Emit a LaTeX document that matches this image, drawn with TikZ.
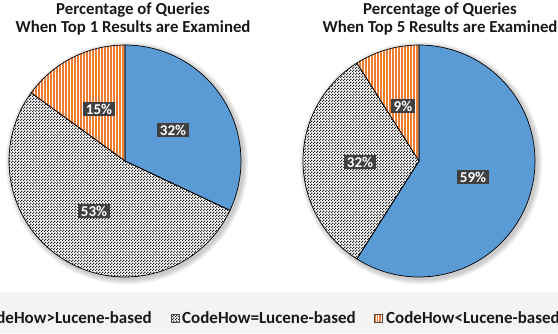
\documentclass[tikz,border=0pt]{standalone}
\usepackage{fontspec}
\setmainfont{Carlito}
\usetikzlibrary{patterns,patterns.meta}
\definecolor{pblue}{HTML}{5B9BD5}
\definecolor{porange}{HTML}{ED7D31}
\definecolor{lblbox}{HTML}{404040}
\definecolor{legbg}{HTML}{F4F4F4}
\pgfdeclarepatternformonly{checker}{\pgfqpoint{0pt}{0pt}}{\pgfqpoint{2.6pt}{2.6pt}}{\pgfqpoint{2.6pt}{2.6pt}}{%
  \pgfpathrectangle{\pgfqpoint{0pt}{0pt}}{\pgfqpoint{1.3pt}{1.3pt}}%
  \pgfpathrectangle{\pgfqpoint{1.3pt}{1.3pt}}{\pgfqpoint{1.3pt}{1.3pt}}%
  \pgfusepath{fill}}
\tikzset{
  slicebluestyle/.style={fill=pblue, draw=black, line width=0.7pt, line join=round},
  slicegraystyle/.style={pattern=checker, pattern color=black!85, draw=black, line width=0.7pt, line join=round},
  sliceorangestyle/.style={pattern={Lines[angle=90,distance=3pt,line width=1.3pt]}, pattern color=porange, draw=black, line width=0.7pt, line join=round},
  pctlabel/.style={fill=lblbox, text=white, font=\fontsize{15}{17}\selectfont\bfseries, inner xsep=3pt, inner ysep=2pt},
  titletext/.style={font=\fontsize{16.8}{18}\selectfont\bfseries, align=center, text=black!90},
  legtext/.style={font=\fontsize{17}{19}\selectfont\bfseries, anchor=west, inner sep=0pt, text=black!90},
  legbox/.style={draw=black!70, line width=0.4pt, minimum size=8pt, inner sep=0pt}
}
\begin{document}
\begin{tikzpicture}[x=1pt,y=1pt]
\useasboundingbox (0,0) rectangle (558,333);
\clip (0,0) rectangle (558,333);
\fill[white] (0,0) rectangle (558,333);
\fill[legbg] (0,0) rectangle (558,41);
% centres
\coordinate (lc) at (125,172);
\coordinate (rc) at (419,172);
% soft shadows
\foreach \k in {1,...,6}{
  \fill[black, opacity=0.035] ([shift={(2,-2)}]lc) circle[radius=116+\k*0.9];
  \fill[black, opacity=0.035] ([shift={(2,-2)}]rc) circle[radius=116+\k*0.9];
}
\fill[white] (lc) circle[radius=116];
\fill[white] (rc) circle[radius=116];
% left pie
\path[slicebluestyle] (lc) -- ++(90:116) arc[start angle=90, end angle=-25.2, radius=116] -- cycle;
\path[slicegraystyle] (lc) -- ++(-25.2:116) arc[start angle=-25.2, end angle=-216, radius=116] -- cycle;
\path[sliceorangestyle] (lc) -- ++(144:116) arc[start angle=144, end angle=90, radius=116] -- cycle;
% right pie
\path[slicebluestyle] (rc) -- ++(90:116) arc[start angle=90, end angle=-122.4, radius=116] -- cycle;
\path[slicegraystyle] (rc) -- ++(-122.4:116) arc[start angle=-122.4, end angle=-237.6, radius=116] -- cycle;
\path[sliceorangestyle] (rc) -- ++(122.4:116) arc[start angle=122.4, end angle=90, radius=116] -- cycle;
% labels
\node[pctlabel] (l32) at (173,203) {32\%};
\node[pctlabel] (l15) at (99,224) {15\%};
\node[pctlabel] (l53) at (94,122) {53\%};
\node[pctlabel] (r9) at (403,227) {9\%};
\node[pctlabel] (r32) at (360,171) {32\%};
\node[pctlabel] (r59) at (473,156) {59\%};
% titles
\node[titletext] (lt) at (133,314) {Percentage of Queries\\When Top 1 Results are Examined};
\node[titletext] (rt) at (440,314) {Percentage of Queries\\When Top 5 Results are Examined};
% legend
\node[legbox, fill=pblue] (k1) at (-29,15) {};
\node[legtext] (t1) at (-22,15) {CodeHow>Lucene-based};
\node[legbox, pattern=checker, pattern color=black!85] (k2) at (175,15) {};
\node[legtext] (t2) at (182,15) {CodeHow=Lucene-based};
\node[legbox, pattern={Lines[angle=90,distance=2.5pt,line width=1.1pt]}, pattern color=porange] (k3) at (378,15) {};
\node[legtext] (t3) at (386,15) {CodeHow<Lucene-based};
\end{tikzpicture}
\end{document}
